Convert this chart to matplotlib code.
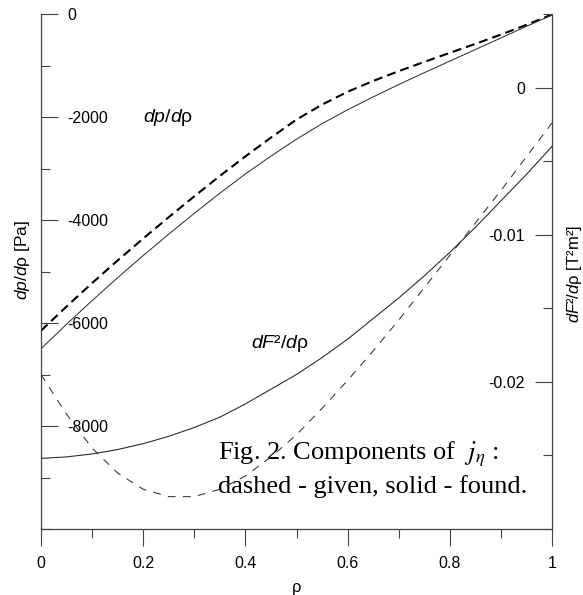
import numpy as np
import matplotlib.pyplot as plt
from matplotlib.ticker import MultipleLocator

plt.rcParams['font.family'] = 'Liberation Sans'
plt.rcParams['axes.unicode_minus'] = False
plt.rcParams['mathtext.fontset'] = 'custom'
plt.rcParams['mathtext.rm'] = 'Liberation Sans'
plt.rcParams['mathtext.it'] = 'Liberation Sans:italic'

# values
rho = [0, 0.05, 0.1, 0.15, 0.2, 0.25, 0.3, 0.35, 0.4, 0.45, 0.5,
       0.55, 0.6, 0.65, 0.7, 0.75, 0.8, 0.85, 0.9, 0.95, 1.0]

# dp/drho [Pa], left axis
dp_given = [-6150, -5680, -5225, -4785, -4360, -3945, -3540, -3145, -2765, -2400, -2050,
            -1760, -1510, -1300, -1110, -930, -755, -580, -400, -210, -10]
dp_found = [-6500, -6025, -5565, -5120, -4690, -4275, -3870, -3480, -3105, -2760, -2430,
            -2130, -1860, -1610, -1370, -1140, -915, -690, -465, -240, -20]

# dF^2/drho [T^2 m^2], right axis
dF2_given = [-0.0195, -0.0222, -0.0245, -0.0262, -0.0273, -0.0278, -0.0278, -0.0273, -0.0264, -0.0251, -0.0236,
             -0.0218, -0.0199, -0.0179, -0.0158, -0.0136, -0.0114, -0.0092, -0.0070, -0.0047, -0.0024]
dF2_found = [-0.0252, -0.0251, -0.0249, -0.0246, -0.0242, -0.0237, -0.0231, -0.0224, -0.0215, -0.0205, -0.0195,
             -0.01835, -0.0171, -0.0157, -0.0143, -0.0128, -0.0112, -0.0095, -0.0077, -0.0059, -0.0040]

x_ticks = [0, 0.2, 0.4, 0.6, 0.8, 1]
x_labels = ['0', '0.2', '0.4', '0.6', '0.8', '1']
left_ticks = [-8000, -6000, -4000, -2000, 0]
left_labels = ['-8000', '-6000', '-4000', '-2000', '0']
right_ticks = [-0.02, -0.01, 0]
right_labels = ['-0.02', '-0.01', '0']

axis_col = '#444444'

fig = plt.figure(figsize=(5.83, 5.95), dpi=100)
ax = fig.add_axes([41/583, 1 - 529/595, 511/583, 515/595])
ax2 = ax.twinx()

ax.plot(rho, dp_given, color='black', lw=1.5, dashes=(4.3, 2.4))
ax.plot(rho, dp_found, color='#333333', lw=0.75)
ax2.plot(rho, dF2_given, color='#333333', lw=0.75, dashes=(7.5, 7))
ax2.plot(rho, dF2_found, color='#222222', lw=0.75)

ax.set_xlim(0, 1)
ax.set_ylim(-10000, 0)
ax2.set_ylim(-0.030, 0.005)

for s in ['top', 'right']:
    ax.spines[s].set_visible(False)
for s in ['top', 'left', 'bottom']:
    ax2.spines[s].set_visible(False)
for a in [ax, ax2]:
    for s in a.spines.values():
        s.set_color(axis_col)
        s.set_linewidth(0.9)

ax.set_xticks(x_ticks, labels=x_labels)
ax.xaxis.set_minor_locator(MultipleLocator(0.1))
ax.tick_params(axis='x', which='major', direction='out', length=12.2, width=0.8,
               color=axis_col, labelsize=11.5, pad=7.5)
ax.tick_params(axis='x', which='minor', direction='out', length=6.5, width=0.8, color=axis_col)

ax.set_yticks(left_ticks, labels=left_labels, ha='left')
ax.yaxis.set_minor_locator(MultipleLocator(1000))
ax.tick_params(axis='y', which='major', direction='in', length=12.2, width=0.8,
               color=axis_col, labelsize=11.5, pad=-18.7)
ax.tick_params(axis='y', which='minor', direction='in', length=6.5, width=0.8, color=axis_col)

ax2.set_yticks(right_ticks, labels=right_labels, ha='right')
ax2.yaxis.set_minor_locator(MultipleLocator(0.005))
ax2.tick_params(axis='y', which='major', direction='in', length=12.2, width=0.8,
                color=axis_col, labelsize=11.5, pad=-19.4)
ax2.tick_params(axis='y', which='minor', direction='in', length=6.5, width=0.8, color=axis_col)

# axis titles
fig.text(296.5/583, 1 - 592/595, 'ρ', fontsize=12, ha='center', va='baseline')
fig.text(23/583, 1 - 260/595, r'$dp$/$d$ρ [Pa]', fontsize=12.5,
         rotation=90, ha='center', va='center')
fig.text(574/583, 1 - 274/595, r'$dF$²/$d$ρ [T²m²]', fontsize=12,
         rotation=90, ha='center', va='center')

# curve labels
ax.text(0.2, -2000, r'$dp$/$d$ρ', fontsize=14, va='center')
ax.text(0.41, -6400, r'$dF$²/$d$ρ', fontsize=14, va='center')

# caption
ax.text(0.347, -8641, r'Fig. 2. Components of  $j_\eta$ :', fontsize=19,
        family='Liberation Serif', math_fontfamily='stix', va='baseline')
ax.text(0.347, -9301, 'dashed - given, solid - found.', fontsize=19,
        family='Liberation Serif', va='baseline')

fig.savefig('out.png', dpi=100)
